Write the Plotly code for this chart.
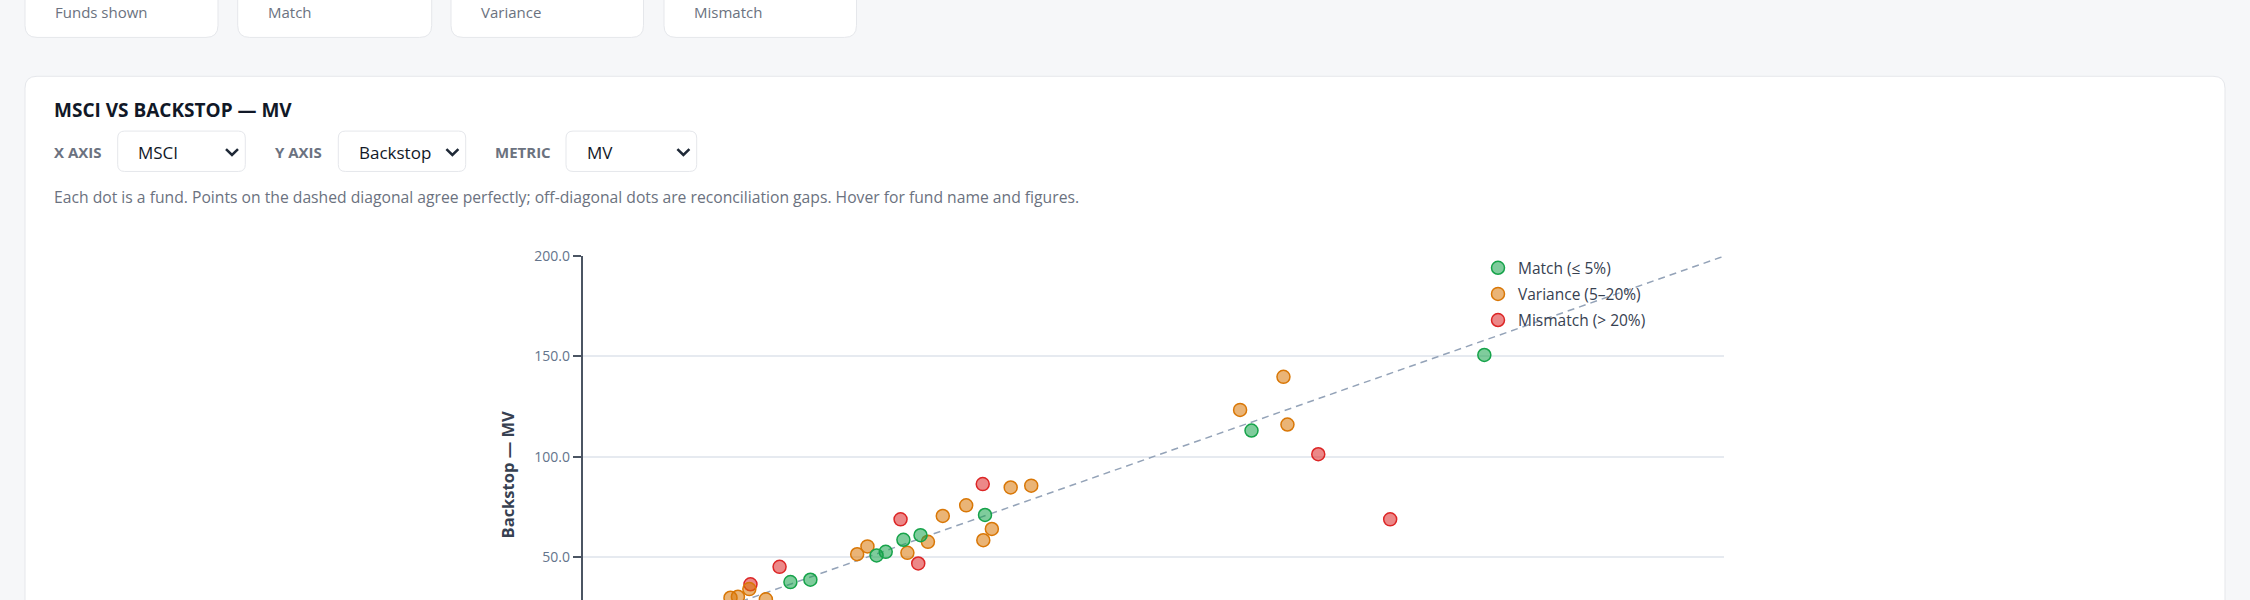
import plotly.graph_objects as go

W, H = 2250, 600
# observed: the figure is drawn into screen rows [8, 600]
TOP_OFF, DRAW_H = 8.0, 592.0

# ---------------- data ----------------
statuses = ["Match (≤ 5%)", "Variance (5–20%)", "Mismatch (> 20%)"]
status_colors = ["#16a34a", "#d97706", "#dc2626"]

match_msci = [36.4, 39.9, 51.5, 53.1, 56.2, 59.2, 70.5, 117.2, 158.0]
match_backstop = [37.4, 38.6, 50.7, 52.5, 58.5, 60.8, 70.9, 113.0, 150.7]

variance_msci = [25.9, 27.2, 29.2, 32.1, 48.1, 49.9, 56.9, 60.5, 63.1, 67.2,
                 71.7, 70.2, 75.0, 78.6, 115.2, 122.8, 123.5]
variance_backstop = [29.6, 30.1, 33.9, 28.8, 51.3, 55.2, 52.0, 57.5, 70.4, 75.7,
                     63.9, 58.3, 84.6, 85.5, 123.3, 139.8, 116.0]

mismatch_msci = [29.4, 34.5, 55.7, 58.8, 70.1, 128.9, 141.5]
mismatch_backstop = [36.3, 45.0, 68.7, 46.7, 86.3, 101.2, 68.7]

diag_range = [0, 200]
y_ticks = [0, 50, 100, 150, 200]

card_labels = ["Funds shown", "Match", "Variance", "Mismatch"]
chart_title = "MSCI VS BACKSTOP — MV"
control_labels = ["X AXIS", "Y AXIS", "METRIC"]
control_values = ["MSCI", "Backstop", "MV"]
description = ("Each dot is a fund. Points on the dashed diagonal agree perfectly; "
               "off-diagonal dots are reconciliation gaps. Hover for fund name and figures.")
y_title = "Backstop — MV"

FONT = "Open Sans, Noto Sans, sans-serif"


def fy(y):
    return 1 - (y - TOP_OFF) / DRAW_H


def P(x, y):
    return f"{x / W:.6f},{fy(y):.6f}"


def rrect(x0, y0, x1, y1, r, fill, line="#e5e7eb", lw=1):
    path = (f"M {P(x0 + r, y0)} L {P(x1 - r, y0)} Q {P(x1, y0)} {P(x1, y0 + r)} "
            f"L {P(x1, y1 - r)} Q {P(x1, y1)} {P(x1 - r, y1)} "
            f"L {P(x0 + r, y1)} Q {P(x0, y1)} {P(x0, y1 - r)} "
            f"L {P(x0, y0 + r)} Q {P(x0, y0)} {P(x0 + r, y0)} Z")
    return dict(type="path", xref="paper", yref="paper", path=path,
                fillcolor=fill, line=dict(color=line, width=lw), layer="below")


def chevron(cx, cy):
    path = f"M {P(cx - 6, cy - 3)} L {P(cx, cy + 3)} L {P(cx + 6, cy - 3)}"
    return dict(type="path", xref="paper", yref="paper", path=path,
                line=dict(color="#1f2937", width=2.5), layer="below")


def text(x, y, s, size, color, weight="normal", xanchor="left", angle=0):
    return dict(xref="paper", yref="paper", x=x / W, y=fy(y), text=s,
                showarrow=False, xanchor=xanchor, yanchor="middle", textangle=angle,
                font=dict(family=FONT, size=size, color=color, weight=weight))


def rgba(hexc, a):
    h = hexc.lstrip("#")
    r, g, b = int(h[0:2], 16), int(h[2:4], 16), int(h[4:6], 16)
    return f"rgba({r},{g},{b},{a})"


fig = go.Figure()

# diagonal of perfect agreement
fig.add_trace(go.Scatter(x=diag_range, y=diag_range, mode="lines",
                         line=dict(color="#94a3b8", width=1.5, dash="7px,5px"),
                         hoverinfo="skip", showlegend=False))

series = [
    (mismatch_msci, mismatch_backstop, 2),
    (variance_msci, variance_backstop, 1),
    (match_msci, match_backstop, 0),
]
for xs, ys, i in series:
    fig.add_trace(go.Scatter(
        x=xs, y=ys, mode="markers", name=statuses[i],
        legendgroup=f"g{i}", legendrank=i + 1,
        marker=dict(size=13, color=rgba(status_colors[i], 0.55),
                    line=dict(color=status_colors[i], width=1.5)),
        hovertemplate="MSCI: %{x:.1f}<br>Backstop: %{y:.1f}<extra>" + statuses[i] + "</extra>",
    ))

shapes = []
card_x = [(25, 218), (237.7, 431.7), (451, 643.5), (664, 856.5)]
for (x0, x1) in card_x:
    shapes.append(rrect(x0, -60, x1, 35.5, 12, "#ffffff"))
shapes.append(rrect(25, 74.5, 2225, 720, 12, "#ffffff"))
dd = [(117.7, 245.3), (338.3, 465.7), (566, 696.7)]
for (x0, x1) in dd:
    shapes.append(rrect(x0, 129.5, x1, 170, 7, "#ffffff"))
    shapes.append(chevron(x1 - 13.3, 150.5))

annotations = []
for (x0, _), lab in zip(card_x, card_labels):
    annotations.append(text(x0 + 28, 10.5, lab, 15, "#6b7280"))
annotations.append(text(52, 108.5, chart_title, 19, "#111827", "bold"))
label_x = [52, 273, 493]
for lx, lab in zip(label_x, control_labels):
    annotations.append(text(lx, 150.5, lab, 15, "#6b7280", "bold"))
for (x0, _), val in zip(dd, control_values):
    annotations.append(text(x0 + 18.5, 151, val, 17, "#111827"))
annotations.append(text(52, 195.5, description, 15.7, "#6b7280"))
annotations.append(text(507, 475, y_title, 16.5, "#374151", "bold", xanchor="center", angle=-90))

plot_left, plot_right, plot_top = 582.7, 1724.0, 255.0
px_per_unit_y = (556.7 - 255.0) / 150.0
y_zero_px = 255.0 + 200 * px_per_unit_y
y_bottom_val = (y_zero_px - H) / px_per_unit_y

fig.update_layout(
    width=W, height=H,
    margin=dict(l=0, r=0, t=0, b=0),
    paper_bgcolor="#f6f7f9",
    plot_bgcolor="rgba(0,0,0,0)",
    font=dict(family=FONT, color="#374151"),
    shapes=shapes,
    annotations=annotations,
    showlegend=True,
    legend=dict(x=1478 / W, y=fy(250), xanchor="left", yanchor="top",
                bgcolor="rgba(0,0,0,0)", borderwidth=0,
                font=dict(family=FONT, size=15.5, color="#374151"),
                traceorder="grouped", tracegroupgap=3),
    xaxis=dict(domain=[plot_left / W, plot_right / W], range=diag_range,
               showgrid=False, zeroline=False, showline=False,
               showticklabels=False, ticks=""),
    yaxis=dict(domain=[0, fy(plot_top)], range=[y_bottom_val, 200],
               tickvals=y_ticks, tickformat=".1f",
               showgrid=True, gridcolor="#e6eaf0", gridwidth=1.5,
               zeroline=False, showline=True, linecolor="#4b5563", linewidth=2,
               ticks="outside", ticklen=8, tickwidth=2, tickcolor="#4b5563",
               tickfont=dict(family=FONT, size=14, color="#64748b")),
    hovermode="closest",
)

fig.write_html("out.html")
